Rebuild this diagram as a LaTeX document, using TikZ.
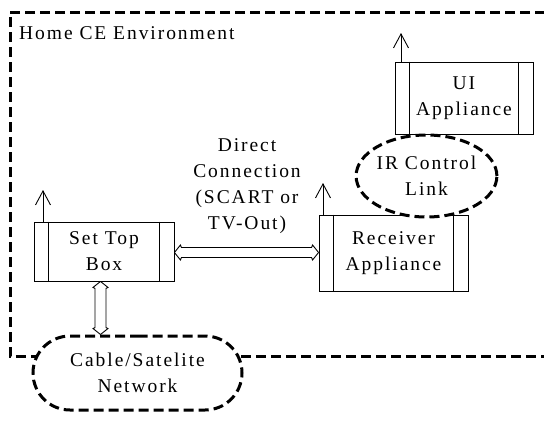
\documentclass[tikz,border=0pt]{standalone}
\usepackage{fontspec}
\setmainfont{Liberation Serif}[LetterSpace=10]
\usetikzlibrary{arrows.meta,shapes.geometric,shapes.misc,calc}
\begin{document}
\begin{tikzpicture}[x=1pt,y=-1pt,
  txt/.style={font=\fontsize{19.5}{26}\selectfont, align=center, inner sep=0pt},
  appbox/.style={draw, line width=0.9pt, rectangle, inner sep=0pt, txt},
  dashy/.style={draw, line width=3pt, dash pattern=on 10pt off 5pt},
  cloudy/.style={dashy, fill=white, inner sep=0pt, txt},
  dblline/.style={line width=0.9pt, line join=miter},
  ant/.style={line width=0.9pt, -{Straight Barb[length=14pt,width=15pt,line width=0.9pt]}}
]
\useasboundingbox (0,0) rectangle (544,421);
\fill[white] (0,0) rectangle (544,421);

% environment boundary
\draw[dashy] (545,12) -- (10,12) -- (10,356) -- (545,356);
\node[txt, anchor=west] (env) at (19,33) {Home CE Environment};

% appliances
\node[appbox, minimum width=140pt, minimum height=59pt] (stb) at (104,251.5) {Set Top\\Box};
\node[appbox, minimum width=149pt, minimum height=76pt] (rcv) at (393.5,253) {Receiver\\Appliance};
\node[appbox, minimum width=138pt, minimum height=72pt] (ui) at (464,98) {UI\\Appliance};

% side bars
\foreach \n in {stb,rcv,ui}{
  \draw[line width=0.9pt] ([xshift=15pt]\n.north west) -- ([xshift=15pt]\n.south west);
  \draw[line width=0.9pt] ([xshift=-15pt]\n.north east) -- ([xshift=-15pt]\n.south east);
}

% antennas
\coordinate (stbant) at (43,190);
\coordinate (rcvant) at (323,183);
\coordinate (uiant) at (401,33);
\draw[ant] (stb.north west -| stbant) -- (stbant);
\draw[ant] (rcv.north west -| rcvant) -- (rcvant);
\draw[ant] (ui.north west -| uiant) -- (uiant);

% clouds
\node[cloudy, ellipse, minimum width=135pt, minimum height=82pt] (ir) at (426.5,176) {IR Control\\Link};
\node[cloudy, rounded rectangle, minimum width=209pt, minimum height=74pt] (net) at (137.5,373) {Cable/Satelite\\Network};

% connections (hollow double-headed arrows)
\coordinate (h1) at (stb.east |- 0,252.5);
\coordinate (h2) at (rcv.west |- 0,252.5);
\coordinate (v1) at (stb.south -| 100.5,0);
\coordinate (v2) at (net.north -| 100.5,0);
\foreach \s in {1,-1}{
  \draw[dblline] (h1) -- ($(h1)+(6,7.5*\s)$) -- ($(h1)+(7,5*\s)$)
     -- ($(h2)+(-7,5*\s)$) -- ($(h2)+(-6,7.5*\s)$) -- (h2);
  \draw[dblline] (v1) -- ($(v1)+(7.5*\s,6)$) -- ($(v1)+(5.5*\s,7)$)
     -- ($(v2)+(5.5*\s,-7)$) -- ($(v2)+(7.5*\s,-6)$) -- (v2);
}
\node[txt] (direct) at (247,186) {Direct\\Connection\\(SCART or\\TV-Out)};
\end{tikzpicture}
\end{document}
